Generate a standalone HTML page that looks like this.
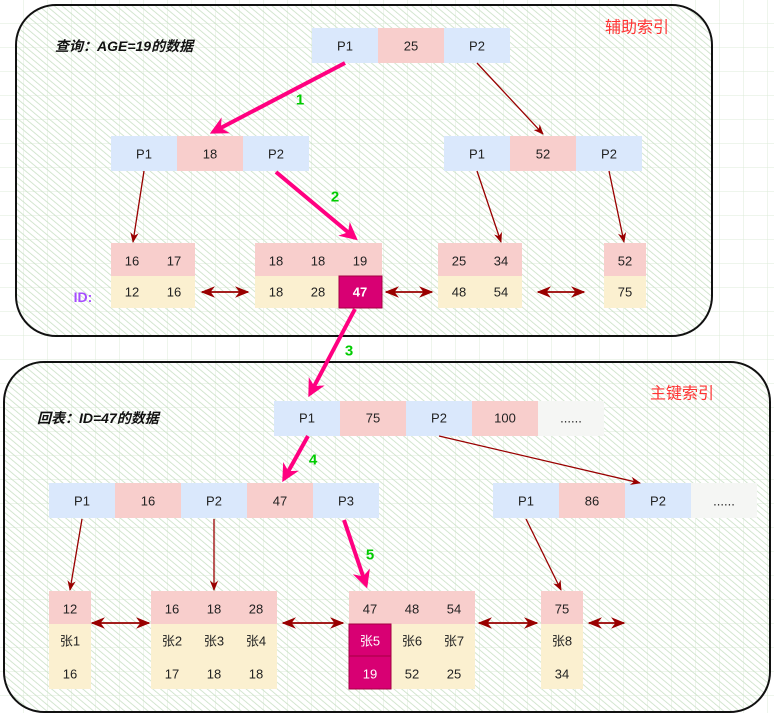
<!DOCTYPE html>
<html><head><meta charset="utf-8"><style>
html,body{margin:0;padding:0;width:774px;height:713px;overflow:hidden;background:#fff}
svg text{font-family:"Liberation Sans","Noto Sans CJK SC",sans-serif;font-size:13px;fill:#222;text-anchor:middle;dominant-baseline:central}
</style></head><body>
<svg width="774" height="713" xmlns="http://www.w3.org/2000/svg">
<defs>
<pattern id="grid" width="24" height="24" patternUnits="userSpaceOnUse">
<path d="M24 0V24M0 24H24" stroke="#dcebd9" stroke-width="1" fill="none"/>
</pattern>
<pattern id="hatch" width="5" height="5" patternUnits="userSpaceOnUse" patternTransform="rotate(-50)">
<line x1="0" y1="0" x2="0" y2="5" stroke="#c9e0c5" stroke-width="1.6"/>
</pattern>
<marker id="ar" viewBox="0 0 10 10" refX="9" refY="5" markerWidth="8" markerHeight="8" orient="auto-start-reverse"><path d="M0 1L10 5L0 9L3 5z" fill="#990000"/></marker>
<marker id="ap" viewBox="0 0 10 10" refX="8" refY="5" markerWidth="4.5" markerHeight="4.5" orient="auto"><path d="M0 0L10 5L0 10L3 5z" fill="#ff0080"/></marker>
</defs>
<rect width="774" height="713" fill="url(#grid)"/>
<rect x="16" y="5" width="696" height="331" rx="40" fill="#fff"/>
<rect x="16" y="5" width="696" height="331" rx="40" fill="url(#grid)"/>
<rect x="16" y="5" width="696" height="331" rx="40" fill="url(#hatch)" stroke="#111" stroke-width="2"/>
<rect x="4" y="362" width="766" height="350" rx="40" fill="#fff"/>
<rect x="4" y="362" width="766" height="350" rx="40" fill="url(#grid)"/>
<rect x="4" y="362" width="766" height="350" rx="40" fill="url(#hatch)" stroke="#111" stroke-width="2"/>

<text x="55" y="46" style="text-anchor:start;font-weight:bold;font-style:italic;font-size:14px;fill:#111">查询：AGE=19的数据</text>
<text x="605" y="28" style="text-anchor:start;font-size:16px;fill:#ff3333">辅助索引</text>
<text x="37" y="418" style="text-anchor:start;font-weight:bold;font-style:italic;font-size:14px;fill:#111">回表：ID=47的数据</text>
<text x="650" y="394" style="text-anchor:start;font-size:16px;fill:#ff3333">主键索引</text>
<text x="83" y="297" style="font-weight:bold;font-size:14px;fill:#a64dff">ID:</text>

<g>
<rect x="312" y="28" width="66" height="35" fill="#dae8fc"/><text x="345" y="46">P1</text>
<rect x="378" y="28" width="66" height="35" fill="#f8cecc"/><text x="411" y="46">25</text>
<rect x="444" y="28" width="66" height="35" fill="#dae8fc"/><text x="477" y="46">P2</text>
<rect x="111" y="136" width="66" height="35" fill="#dae8fc"/><text x="144" y="154">P1</text>
<rect x="177" y="136" width="66" height="35" fill="#f8cecc"/><text x="210" y="154">18</text>
<rect x="243" y="136" width="66" height="35" fill="#dae8fc"/><text x="276" y="154">P2</text>
<rect x="444" y="136" width="66" height="35" fill="#dae8fc"/><text x="477" y="154">P1</text>
<rect x="510" y="136" width="66" height="35" fill="#f8cecc"/><text x="543" y="154">52</text>
<rect x="576" y="136" width="66" height="35" fill="#dae8fc"/><text x="609" y="154">P2</text>
</g>
<g>
<rect x="111" y="243" width="84" height="33" fill="#f8cecc"/><rect x="111" y="276" width="84" height="32" fill="#fbf0d0"/>
<text x="132" y="261">16</text><text x="174" y="261">17</text><text x="132" y="292">12</text><text x="174" y="292">16</text>
<rect x="255" y="243" width="127" height="33" fill="#f8cecc"/><rect x="255" y="276" width="84" height="32" fill="#fbf0d0"/>
<rect x="339" y="276" width="43" height="32" fill="#d80073" stroke="#a50040"/>
<text x="276" y="261">18</text><text x="318" y="261">18</text><text x="360" y="261">19</text>
<text x="276" y="292">18</text><text x="318" y="292">28</text><text x="360" y="292" style="fill:#fff;font-weight:bold">47</text>
<rect x="438" y="243" width="84" height="33" fill="#f8cecc"/><rect x="438" y="276" width="84" height="32" fill="#fbf0d0"/>
<text x="459" y="261">25</text><text x="501" y="261">34</text><text x="459" y="292">48</text><text x="501" y="292">54</text>
<rect x="604" y="243" width="42" height="33" fill="#f8cecc"/><rect x="604" y="276" width="42" height="32" fill="#fbf0d0"/>
<text x="625" y="261">52</text><text x="625" y="292">75</text>
</g>

<g>
<rect x="274" y="401" width="66" height="35" fill="#dae8fc"/><text x="307" y="418">P1</text>
<rect x="340" y="401" width="66" height="35" fill="#f8cecc"/><text x="373" y="418">75</text>
<rect x="406" y="401" width="66" height="35" fill="#dae8fc"/><text x="439" y="418">P2</text>
<rect x="472" y="401" width="66" height="35" fill="#f8cecc"/><text x="505" y="418">100</text>
<rect x="538" y="401" width="66" height="35" fill="#f5f6f4"/><text x="571" y="418">......</text>
<rect x="49" y="483" width="66" height="35" fill="#dae8fc"/><text x="82" y="501">P1</text>
<rect x="115" y="483" width="66" height="35" fill="#f8cecc"/><text x="148" y="501">16</text>
<rect x="181" y="483" width="66" height="35" fill="#dae8fc"/><text x="214" y="501">P2</text>
<rect x="247" y="483" width="66" height="35" fill="#f8cecc"/><text x="280" y="501">47</text>
<rect x="313" y="483" width="66" height="35" fill="#dae8fc"/><text x="346" y="501">P3</text>
<rect x="493" y="483" width="66" height="35" fill="#dae8fc"/><text x="526" y="501">P1</text>
<rect x="559" y="483" width="66" height="35" fill="#f8cecc"/><text x="592" y="501">86</text>
<rect x="625" y="483" width="66" height="35" fill="#dae8fc"/><text x="658" y="501">P2</text>
<rect x="691" y="483" width="66" height="35" fill="#f5f6f4"/><text x="724" y="501">......</text>
</g>
<g>
<rect x="49" y="591" width="42" height="33" fill="#f8cecc"/><rect x="49" y="624" width="42" height="65" fill="#fbf0d0"/>
<text x="70" y="609">12</text><text x="70" y="641">张1</text><text x="70" y="674">16</text>
<rect x="151" y="591" width="126" height="33" fill="#f8cecc"/><rect x="151" y="624" width="126" height="65" fill="#fbf0d0"/>
<text x="172" y="609">16</text><text x="214" y="609">18</text><text x="256" y="609">28</text>
<text x="172" y="641">张2</text><text x="214" y="641">张3</text><text x="256" y="641">张4</text>
<text x="172" y="674">17</text><text x="214" y="674">18</text><text x="256" y="674">18</text>
<rect x="349" y="591" width="126" height="33" fill="#f8cecc"/><rect x="349" y="624" width="126" height="65" fill="#fbf0d0"/>
<rect x="349" y="624" width="42" height="32" fill="#d80073" stroke="#a50040"/><rect x="349" y="656" width="42" height="33" fill="#d80073" stroke="#a50040"/>
<text x="370" y="609">47</text><text x="412" y="609">48</text><text x="454" y="609">54</text>
<text x="370" y="641" style="fill:#fff">张5</text><text x="412" y="641">张6</text><text x="454" y="641">张7</text>
<text x="370" y="674" style="fill:#fff">19</text><text x="412" y="674">52</text><text x="454" y="674">25</text>
<rect x="541" y="591" width="42" height="33" fill="#f8cecc"/><rect x="541" y="624" width="42" height="65" fill="#fbf0d0"/>
<text x="562" y="609">75</text><text x="562" y="641">张8</text><text x="562" y="674">34</text>
</g>

<g stroke="#990000" stroke-width="1.3" fill="none" marker-end="url(#ar)">
<line x1="144" y1="171" x2="133" y2="242"/>
<line x1="477" y1="63" x2="543" y2="134"/>
<line x1="477" y1="171" x2="501" y2="242"/>
<line x1="609" y1="171" x2="624" y2="242"/>
<line x1="82" y1="519" x2="70" y2="590"/>
<line x1="214" y1="519" x2="214" y2="590"/>
<line x1="439" y1="436" x2="640" y2="483"/>
<line x1="526" y1="519" x2="561" y2="590"/>
</g>
<g stroke="#990000" stroke-width="1.8" fill="none" marker-end="url(#ar)" marker-start="url(#ar)">
<line x1="202" y1="292" x2="248" y2="292"/>
<line x1="386" y1="292" x2="432" y2="292"/>
<line x1="538" y1="292" x2="584" y2="292"/>
<line x1="92" y1="623" x2="149" y2="623"/>
<line x1="283" y1="623" x2="343" y2="623"/>
<line x1="479" y1="623" x2="537" y2="623"/>
<line x1="589" y1="623" x2="624" y2="623"/>
</g>
<g stroke="#ff0080" stroke-width="4" fill="none" marker-end="url(#ap)">
<line x1="345" y1="63" x2="213" y2="132"/>
<line x1="276" y1="172" x2="355" y2="238"/>
<line x1="355" y1="309" x2="310" y2="394"/>
<line x1="308" y1="436" x2="284" y2="479"/>
<line x1="344" y1="520" x2="366" y2="585"/>
</g>
<text x="300" y="100" style="fill:#00cc00;font-weight:bold;font-size:15px">1</text>
<text x="335" y="197" style="fill:#00cc00;font-weight:bold;font-size:15px">2</text>
<text x="349" y="351" style="fill:#00cc00;font-weight:bold;font-size:15px">3</text>
<text x="313" y="460" style="fill:#00cc00;font-weight:bold;font-size:15px">4</text>
<text x="370" y="555" style="fill:#00cc00;font-weight:bold;font-size:15px">5</text>
</svg>
</body></html>
